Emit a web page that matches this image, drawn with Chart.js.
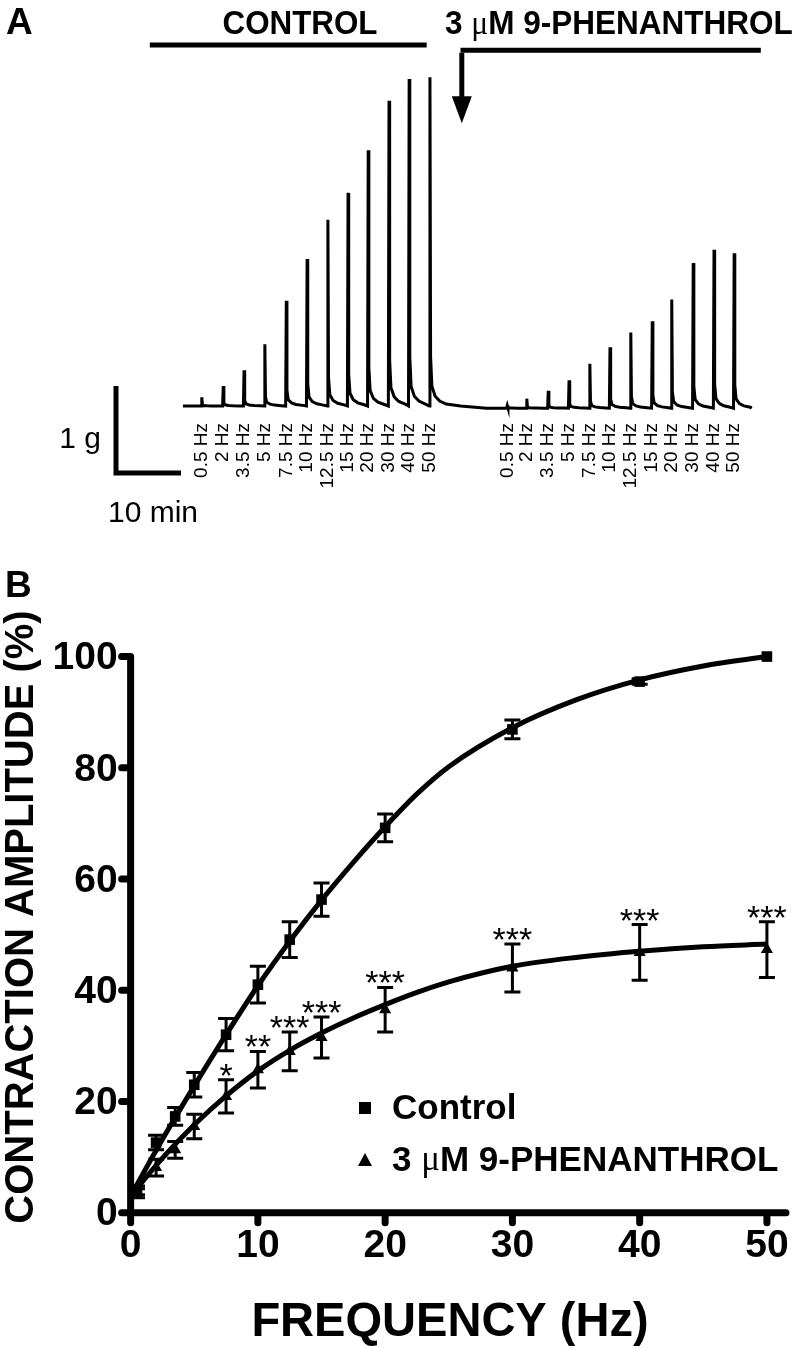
<!DOCTYPE html>
<html>
<head>
<meta charset="utf-8">
<script src="https://cdn.jsdelivr.net/npm/chart.js@4.4.1/dist/chart.umd.min.js"></script>
<style>
  body { margin: 0; background: #fff; }
  #wrap { position: relative; width: 800px; height: 1348px; background: #fff; }
  canvas { position: absolute; left: 0; }
  #traceA { top: 0; }
  #chartB { top: 540px; }
</style>
</head>
<body>
<div id="wrap">
  <canvas id="traceA" width="800" height="540"></canvas>
  <canvas id="chartB" width="800" height="808"></canvas>
</div>
<script>
// stimulation frequencies (Hz)
const freqs = [0.5, 2, 3.5, 5, 7.5, 10, 12.5, 15, 20, 30, 40, 50];
const freqLabels = freqs.map(f => f + ' Hz');

// panel A - twitch recording: stimulus time (min) and peak force (g)
const ctrlTimes = [13.2, 16.5, 19.7, 22.9, 26.2, 29.4, 32.6, 35.7, 38.8, 42.0, 45.1, 48.3];
const ctrlPeaks = [0.10, 0.23, 0.41, 0.71, 1.21, 1.69, 2.14, 2.45, 2.94, 3.51, 3.76, 3.78];
const phenTimes = [60.2, 63.2, 66.5, 69.7, 72.9, 76.0, 79.2, 82.5, 85.5, 88.8, 92.0, 95.1];
const phenPeaks = [0.03, 0.11, 0.20, 0.32, 0.51, 0.70, 0.87, 1.00, 1.25, 1.67, 1.82, 1.78];
const ctrlBase = 0;
const phenBase = -0.025;
const traceStart = 10.3;
const traceEnd = 97.8;
// one twitch: time offset (min) and fraction of the peak
const twitchDt = [-0.1, 0, 0.1, 0.3, 0.8, 1.5, 2.5];
const twitchFr = [0, 1, 0.15, 0.06, 0.03, 0.015, 0.006];

// panel B - contraction amplitude (% of max), mean and SEM
const ctrlMean = [4.0, 12.6, 17.3, 23.0, 32.0, 41.0, 49.1, 56.3, 69.2, 86.9, 95.5, 100];
const ctrlSem  = [0.8, 1.3, 1.6, 2.2, 2.9, 3.3, 3.2, 3.0, 2.5, 1.7, 0.5, 0];
const phenMean = [3.5, 8.1, 11.3, 15.5, 20.9, 25.7, 29.0, 31.5, 36.5, 44.0, 46.8, 47.3];
const phenSem  = [0.8, 1.5, 1.5, 2.2, 3.0, 3.3, 3.5, 3.7, 4.0, 4.3, 5.0, 5.0];
const stars    = ['', '', '', '', '*', '**', '***', '***', '***', '***', '***', '***'];

// fitted curves
const fitX     = [0, 2.5, 5, 7.5, 10, 12.5, 15, 17.5, 20, 22.5, 25, 30, 35, 40, 45, 50];
const ctrlFitY = [3, 13.2, 22.8, 32, 40.8, 48.8, 56.2, 63, 69.4, 75.3, 80.2, 87.2, 92.2, 95.8, 98.3, 100];
const phenFitY = [3, 9.8, 15.8, 21, 25.5, 29.2, 32.3, 35, 37.4, 39.6, 41.5, 44.3, 45.9, 47.0, 47.8, 48.3];

const xTicks = [0, 10, 20, 30, 40, 50];
const yTicks = [0, 20, 40, 60, 80, 100];

const BOLD = s => 'bold ' + s + 'px "Liberation Sans", Arial, sans-serif';
const REG = s => s + 'px "Liberation Sans", Arial, sans-serif';
const MU = s => s + 'px "Liberation Serif", "Times New Roman", serif';

function drawRuns(ctx, runs, x, y, align, sx) {
    sx = sx || 1;
    let w = 0;
    runs.forEach(r => { ctx.font = r.font; w += ctx.measureText(r.text).width; });
    ctx.save();
    ctx.translate(x, y);
    ctx.scale(sx, 1);
    let cx = align === 'center' ? -w / 2 : (align === 'right' ? -w : 0);
    ctx.textAlign = 'left';
    runs.forEach(r => {
        ctx.font = r.font;
        ctx.fillText(r.text, cx, 0);
        cx += ctx.measureText(r.text).width;
    });
    ctx.restore();
}

function phenRuns(size) {
    return [
        { text: '3 ', font: BOLD(size) },
        { text: 'μ', font: MU(size) },
        { text: 'M 9-PHENANTHROL', font: BOLD(size) }
    ];
}

// 1. Trace of panel A
function buildTrace(times, peaks, base) {
    const pts = [];
    times.forEach((t, i) => {
        twitchDt.forEach((dt, k) => pts.push({ x: t + dt, y: base + peaks[i] * twitchFr[k] }));
    });
    return pts;
}

const trace = [{ x: traceStart, y: ctrlBase }]
    .concat(buildTrace(ctrlTimes, ctrlPeaks, ctrlBase))
    .concat([{ x: 53, y: ctrlBase }, { x: 57, y: phenBase }])
    .concat(buildTrace(phenTimes, phenPeaks, phenBase))
    .concat([{ x: traceEnd, y: phenBase }]);

// calibration bar: 1 g, 10 min
const scaleBarG = 1;
const scaleBarMin = 10;
const scaleBarY = -0.77;
const scaleBar = [
    { x: 0, y: scaleBarY + scaleBarG },
    { x: 0, y: scaleBarY },
    { x: scaleBarMin, y: scaleBarY }
];

const panelAText = {
    id: 'panelAText',
    afterDraw(chart) {
        const ctx = chart.ctx;
        const xs = chart.scales.x, ys = chart.scales.y;
        const px = t => xs.getPixelForValue(t);
        const py = g => ys.getPixelForValue(g);
        ctx.save();
        ctx.fillStyle = '#000';
        ctx.strokeStyle = '#000';
        ctx.textBaseline = 'alphabetic';

        ctx.font = BOLD(37);
        ctx.textAlign = 'left';
        ctx.fillText('A', 6, 34);

        drawRuns(ctx, [{ text: 'CONTROL', font: BOLD(33) }], 300, 34, 'center', 0.95);
        drawRuns(ctx, phenRuns(33), 445, 34, 'left', 0.955);

        // treatment bars
        ctx.lineWidth = 5;
        ctx.lineCap = 'butt';
        ctx.beginPath();
        ctx.moveTo(px(5.2), py(4.15));
        ctx.lineTo(px(47.8), py(4.15));
        ctx.moveTo(px(53.0), py(4.09));
        ctx.lineTo(px(99.2), py(4.09));
        ctx.stroke();

        // arrow
        const ax = px(53.2);
        ctx.beginPath();
        ctx.moveTo(ax, py(4.06));
        ctx.lineTo(ax, py(3.55));
        ctx.stroke();
        ctx.beginPath();
        ctx.moveTo(ax - 10, py(3.56));
        ctx.lineTo(ax + 10, py(3.56));
        ctx.lineTo(ax, py(3.25));
        ctx.closePath();
        ctx.fill();

        // frequency labels
        ctx.font = REG(19);
        ctx.textAlign = 'right';
        ctx.textBaseline = 'middle';
        [ctrlTimes, phenTimes].forEach(times => {
            times.forEach((t, i) => {
                ctx.save();
                ctx.translate(px(t), 423);
                ctx.rotate(-Math.PI / 2);
                ctx.fillText(freqLabels[i], 0, 0);
                ctx.restore();
            });
        });

        // calibration labels
        ctx.font = REG(30);
        ctx.textBaseline = 'middle';
        ctx.textAlign = 'right';
        ctx.fillText(scaleBarG + ' g', px(0) - 15, py(scaleBarY + scaleBarG / 2) + 10);
        ctx.textAlign = 'left';
        ctx.textBaseline = 'alphabetic';
        ctx.fillText(scaleBarMin + ' min', px(0) - 8, 522);
        ctx.restore();
    }
};

new Chart(document.getElementById('traceA'), {
    type: 'line',
    data: {
        datasets: [
            { data: trace, borderColor: '#000', borderWidth: 3, pointRadius: 0, tension: 0, fill: false },
            { data: scaleBar, borderColor: '#000', borderWidth: 5, pointRadius: 0, tension: 0, fill: false,
              borderJoinStyle: 'miter', borderCapStyle: 'butt' }
        ]
    },
    options: {
        responsive: false,
        animation: false,
        devicePixelRatio: 1,
        layout: { padding: 0 },
        plugins: { legend: { display: false }, tooltip: { enabled: false } },
        scales: {
            x: { type: 'linear', display: false, min: -17.846, max: 105.23 },
            y: { type: 'linear', display: false, min: -1.540, max: 4.667 }
        }
    },
    plugins: [panelAText]
});

// 2. Panel B: frequency-response curves
const errorBars = {
    id: 'errorBars',
    afterDatasetsDraw(chart) {
        const ctx = chart.ctx;
        const xs = chart.scales.x, ys = chart.scales.y;
        ctx.save();
        ctx.strokeStyle = '#000';
        ctx.fillStyle = '#000';
        ctx.lineWidth = 3;
        [[ctrlMean, ctrlSem], [phenMean, phenSem]].forEach(([m, s]) => {
            freqs.forEach((f, i) => {
                if (!s[i]) return;
                const x = xs.getPixelForValue(f);
                const yt = ys.getPixelForValue(m[i] + s[i]);
                const yb = ys.getPixelForValue(m[i] - s[i]);
                ctx.beginPath();
                ctx.moveTo(x, yt); ctx.lineTo(x, yb);
                ctx.moveTo(x - 8, yt); ctx.lineTo(x + 8, yt);
                ctx.moveTo(x - 8, yb); ctx.lineTo(x + 8, yb);
                ctx.stroke();
            });
        });
        // significance marks
        ctx.font = REG(34);
        ctx.textAlign = 'center';
        ctx.textBaseline = 'alphabetic';
        freqs.forEach((f, i) => {
            if (!stars[i]) return;
            const x = xs.getPixelForValue(f);
            const yt = ys.getPixelForValue(phenMean[i] + phenSem[i]);
            ctx.fillText(stars[i], x, yt + 7);
        });
        ctx.restore();
    }
};

const axesB = {
    id: 'axesB',
    afterDraw(chart) {
        const ctx = chart.ctx;
        const xs = chart.scales.x, ys = chart.scales.y;
        const x0 = xs.getPixelForValue(0), y0 = ys.getPixelForValue(0);
        ctx.save();
        ctx.strokeStyle = '#000';
        ctx.fillStyle = '#000';
        ctx.lineCap = 'round';
        ctx.lineWidth = 7;
        ctx.beginPath();
        ctx.moveTo(x0, ys.getPixelForValue(100));
        ctx.lineTo(x0, ys.getPixelForValue(-1.2));
        ctx.moveTo(xs.getPixelForValue(-0.5), y0);
        ctx.lineTo(xs.getPixelForValue(51.5), y0);
        yTicks.forEach(v => {
            const y = ys.getPixelForValue(v);
            ctx.moveTo(x0 - 9, y); ctx.lineTo(x0, y);
        });
        xTicks.forEach(v => {
            const x = xs.getPixelForValue(v);
            ctx.moveTo(x, y0); ctx.lineTo(x, y0 + 10);
        });
        ctx.stroke();

        ctx.font = BOLD(39);
        ctx.textAlign = 'right';
        ctx.textBaseline = 'middle';
        yTicks.forEach(v => ctx.fillText(String(v), x0 - 13, ys.getPixelForValue(v) + 2));
        ctx.textAlign = 'center';
        xTicks.forEach(v => ctx.fillText(String(v), xs.getPixelForValue(v), y0 + 34));

        // axis titles
        ctx.textBaseline = 'middle';
        drawRuns(ctx, [{ text: 'FREQUENCY (Hz)', font: BOLD(48) }], 450, y0 + 110, 'center', 0.98);
        ctx.save();
        ctx.translate(22, 377);
        ctx.rotate(-Math.PI / 2);
        drawRuns(ctx, [{ text: 'CONTRACTION AMPLITUDE (%)', font: BOLD(40) }], 0, 0, 'center', 1);
        ctx.restore();

        ctx.textBaseline = 'alphabetic';
        ctx.font = BOLD(37);
        ctx.textAlign = 'left';
        ctx.fillText('B', 5, 57);

        // legend
        const lx = 365;
        const ly1 = 568, ly2 = 620;
        ctx.fillRect(lx - 6, ly1 - 6, 12, 12);
        ctx.beginPath();
        ctx.moveTo(lx, ly2 - 7);
        ctx.lineTo(lx + 7, ly2 + 6);
        ctx.lineTo(lx - 7, ly2 + 6);
        ctx.closePath();
        ctx.fill();
        ctx.textBaseline = 'middle';
        drawRuns(ctx, [{ text: 'Control', font: BOLD(35) }], lx + 27, ly1 + 1, 'left', 1);
        drawRuns(ctx, phenRuns(35), lx + 27, ly2 + 1, 'left', 1);
        ctx.restore();
    }
};

const toPoints = (xsArr, ysArr) => xsArr.map((x, i) => ({ x: x, y: ysArr[i] }));

new Chart(document.getElementById('chartB'), {
    type: 'scatter',
    data: {
        datasets: [
            { label: 'Control', data: toPoints(freqs, ctrlMean), pointStyle: 'rect', pointRadius: 7.5,
              backgroundColor: '#000', borderColor: '#000', borderWidth: 0, clip: false },
            { label: '3 μM 9-PHENANTHROL', data: toPoints(freqs, phenMean), pointStyle: 'triangle', pointRadius: 7,
              backgroundColor: '#000', borderColor: '#000', borderWidth: 0, clip: false },
            { type: 'line', data: toPoints(fitX, ctrlFitY), borderColor: '#000', borderWidth: 5, pointRadius: 0,
              cubicInterpolationMode: 'monotone', fill: false, clip: false },
            { type: 'line', data: toPoints(fitX, phenFitY), borderColor: '#000', borderWidth: 5, pointRadius: 0,
              cubicInterpolationMode: 'monotone', fill: false, clip: false }
        ]
    },
    options: {
        responsive: false,
        animation: false,
        devicePixelRatio: 1,
        layout: { padding: { left: 0, top: 111, right: 14, bottom: 0 } },
        plugins: { legend: { display: false }, tooltip: { enabled: false } },
        scales: {
            x: {
                type: 'linear', min: -0.6, max: 51.5,
                grid: { display: false, drawTicks: false }, border: { display: false },
                ticks: { display: false },
                afterFit: s => { s.height = 127; }
            },
            y: {
                type: 'linear', min: -1.5, max: 101,
                grid: { display: false, drawTicks: false }, border: { display: false },
                ticks: { display: false },
                afterFit: s => { s.width = 123; }
            }
        }
    },
    plugins: [errorBars, axesB]
});
</script>
</body>
</html>
